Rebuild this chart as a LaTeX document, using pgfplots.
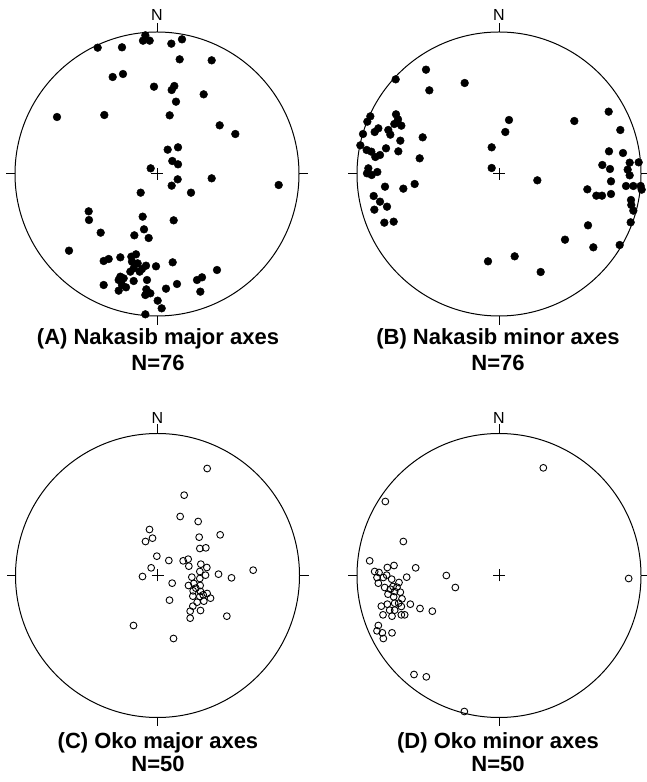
\documentclass[border=0pt]{standalone}
\usepackage{pgfplots}
\pgfplotsset{compat=1.18}
\usepackage{fontspec}
\setmainfont{Liberation Sans}
\begin{document}
\begin{tikzpicture}
\useasboundingbox (0,0) rectangle (646pt,782pt);
\pgfplotsset{
  stereo/.style={x=0.33333pt, y=0.33333pt, y dir=reverse, hide axis, clip=false, anchor=center},
  filled/.style={only marks, mark=*, mark size=3.9pt, mark options={fill=black, draw=black, line width=0.4pt, solid}},
  hollow/.style={only marks, mark=o, mark size=3.4pt, mark options={draw=black, line width=0.9pt, solid}},
}
% Panel A (centre read at 440,522 in zoom units)
\begin{axis}[stereo, at={(157pt,608pt)}, xmin=-10, xmax=890, ymin=72, ymax=972]
\addplot[filled] table {
x y
405 106
398 122
418 122
262 143
335 142
483 131
515 118
508 178
604 181
307 231
338 222
431 260
484 270
492 258
497 305
580 283
140 351
282 345
478 346
628 376
675 402
472 449
503 442
486 483
503 493
421 505
502 538
484 557
604 535
805 555
391 578
542 578
235 634
236 660
397 650
490 661
271 698
401 688
372 706
415 714
176 752
280 783
295 777
330 772
363 770
377 763
365 785
382 790
395 807
388 815
370 805
360 815
407 797
437 799
487 787
620 810
330 830
325 840
340 835
335 855
370 843
347 862
325 872
280 855
410 840
408 868
405 885
420 880
467 866
500 852
560 840
575 832
570 875
442 902
454 925
405 943
};
\end{axis}
% Panel B (centre 462,522)
\begin{axis}[stereo, at={(499pt,608pt)}, xmin=12, xmax=912, ymin=72, ymax=972]
\addplot[filled] table {
x y
243 209
152 238
253 271
359 249
492 360
481 396
440 442
440 504
577 541
688 363
791 335
826 390
792 454
834 459
772 495
795 507
798 544
727 568
754 587
771 587
798 582
854 488
881 487
848 509
854 526
843 558
865 558
887 558
890 569
858 600
859 615
865 632
857 667
729 676
660 719
745 742
824 735
429 784
509 769
587 816
76 349
67 365
153 343
159 358
169 377
148 372
157 367
100 385
89 396
130 390
136 404
54 402
46 436
65 450
79 455
91 471
105 465
123 445
166 422
160 454
233 412
224 475
70 505
66 520
80 525
97 516
120 560
175 566
209 552
86 588
105 605
126 620
88 629
118 668
146 665
};
\end{axis}
% Panel C (centre 443,542)
\begin{axis}[stereo, at={(157.5pt,206.5pt)}, xmin=-7, xmax=893, ymin=92, ymax=992]
\addplot[hollow] table {
x y
592 221
523 301
511 365
565 380
419 404
428 430
407 440
568 427
631 420
570 461
588 459
441 484
477 497
520 498
535 493
537 514
424 519
398 545
487 565
573 508
591 518
570 530
587 541
626 538
665 549
730 526
546 547
570 551
536 572
552 566
571 572
550 588
572 590
549 604
570 605
592 596
602 610
582 619
562 622
549 634
572 647
541 649
541 670
479 616
651 664
371 692
491 731
558 580
580 600
};
\end{axis}
% Panel D (centre 463,542)
\begin{axis}[stereo, at={(499pt,206.5pt)}, xmin=13, xmax=913, ymin=92, ymax=992]
\addplot[hollow] table {
x y
596 219
122 320
176 440
75 498
90 530
103 533
128 518
148 512
126 541
141 553
213 519
186 547
101 565
120 578
137 583
163 563
150 590
167 592
147 606
172 612
110 634
128 628
150 625
170 635
197 628
226 641
263 649
135 646
115 660
142 664
170 660
180 660
101 692
97 708
113 714
116 731
142 714
305 542
332 578
852 551
208 839
245 846
359 950
150 646
157 577
130 598
116 548
162 625
97 548
145 575
};
\end{axis}
% Net outlines, centre crosses and compass ticks
\foreach \cx/\cy in {157/608, 499/608, 157.5/206.5, 499/206.5}{
  \draw[line width=1pt] (\cx pt,\cy pt) circle[radius=142pt];
  \draw[line width=1pt] (\cx pt-6pt,\cy pt) -- (\cx pt+6pt,\cy pt);
  \draw[line width=1pt] (\cx pt,\cy pt-6pt) -- (\cx pt,\cy pt+6pt);
  \draw[line width=1pt] (\cx pt,\cy pt+142pt) -- (\cx pt,\cy pt+151pt);
  \draw[line width=1pt] (\cx pt,\cy pt-142pt) -- (\cx pt,\cy pt-151pt);
  \draw[line width=1pt] (\cx pt+142pt,\cy pt) -- (\cx pt+151pt,\cy pt);
  \draw[line width=1pt] (\cx pt-142pt,\cy pt) -- (\cx pt-151pt,\cy pt);
}
\node[anchor=base, font=\fontsize{16}{18}\selectfont, inner sep=0pt] at (157pt,761.5pt) {N};
\node[anchor=base, font=\fontsize{16}{18}\selectfont, inner sep=0pt] at (499pt,761.5pt) {N};
\node[anchor=base, font=\fontsize{16}{18}\selectfont, inner sep=0pt] at (157.5pt,358pt) {N};
\node[anchor=base, font=\fontsize{16}{18}\selectfont, inner sep=0pt] at (499pt,358pt) {N};
\node[anchor=base, font=\fontsize{22}{24}\selectfont\bfseries, inner sep=0pt] at (158pt,437pt) {(A) Nakasib major axes};
\node[anchor=base, font=\fontsize{22}{24}\selectfont\bfseries, inner sep=0pt] at (158pt,411.3pt) {N=76};
\node[anchor=base, font=\fontsize{22}{24}\selectfont\bfseries, inner sep=0pt] at (498pt,437pt) {(B) Nakasib minor axes};
\node[anchor=base, font=\fontsize{22}{24}\selectfont\bfseries, inner sep=0pt] at (498pt,411.3pt) {N=76};
\node[anchor=base, font=\fontsize{22}{24}\selectfont\bfseries, inner sep=0pt] at (158pt,33.7pt) {(C) Oko major axes};
\node[anchor=base, font=\fontsize{22}{24}\selectfont\bfseries, inner sep=0pt] at (158pt,10.3pt) {N=50};
\node[anchor=base, font=\fontsize{22}{24}\selectfont\bfseries, inner sep=0pt] at (498pt,33.7pt) {(D) Oko minor axes};
\node[anchor=base, font=\fontsize{22}{24}\selectfont\bfseries, inner sep=0pt] at (498pt,10.3pt) {N=50};
\end{tikzpicture}
\end{document}
